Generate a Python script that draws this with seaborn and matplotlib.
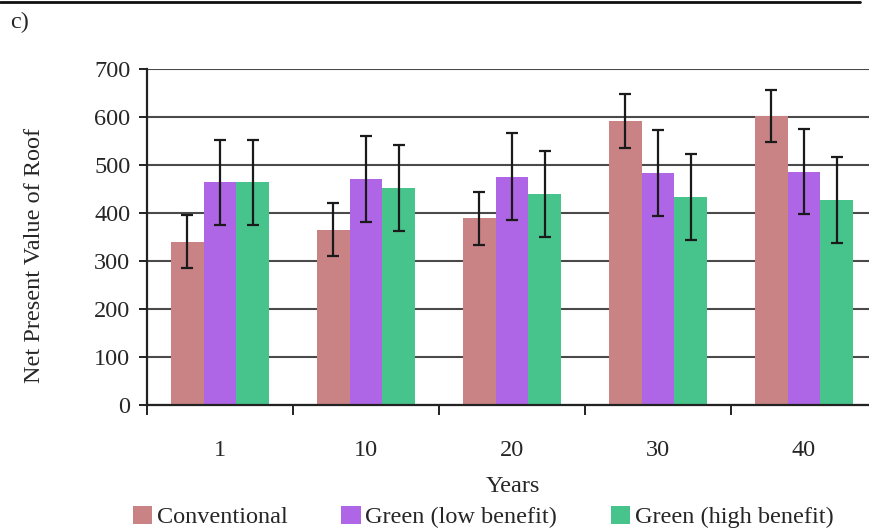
import numpy as np
import pandas as pd
import matplotlib
matplotlib.use("Agg")
import matplotlib.pyplot as plt
from matplotlib.lines import Line2D
import seaborn as sns

years = ["1", "10", "20", "30", "40"]
series = ["Conventional", "Green (low benefit)", "Green (high benefit)"]
conventional = [340, 365, 389, 591, 602]
green_low = [464, 471, 476, 483, 486]
green_high = [464, 452, 440, 433, 427]
err_conventional = [55, 55, 55, 56, 55]
err_green_low = [89, 90, 90, 90, 89]
err_green_high = [89, 90, 90, 90, 90]
colors = ["#C98385", "#AE66E6", "#47C48C"]

values = [conventional, green_low, green_high]
errors = [err_conventional, err_green_low, err_green_high]

df = pd.DataFrame({
    "Years": years * 3,
    "Series": [s for s in series for _ in years],
    "Value": conventional + green_low + green_high,
})

sns.set_theme(style="white")
plt.rcParams["font.family"] = ["Liberation Serif", "DejaVu Serif"]

FS = 17.5

fig = plt.figure(figsize=(8.69, 5.32), dpi=100)
ax = fig.add_axes([147 / 869, 1 - 405 / 532, 730 / 869, 336 / 532])

sns.barplot(data=df, x="Years", y="Value", hue="Series", order=years,
            hue_order=series, palette=colors, width=0.675, saturation=1,
            errorbar=None, ax=ax, legend=True, linewidth=0, edgecolor="none")

for cont, errs in zip(ax.containers, errors):
    xs = [p.get_x() + p.get_width() / 2 for p in cont]
    hs = [p.get_height() for p in cont]
    ax.errorbar(xs, hs, yerr=errs, fmt="none", ecolor="#1a1a1a",
                elinewidth=1.6, capsize=4.5, capthick=1.6, zorder=5)

ax.set_ylim(0, 700)
ax.set_xlim(-0.5, 4.5)
ax.set_yticks(np.arange(0, 701, 100))
ax.yaxis.grid(True, color="#4a4a4a", linewidth=1.5)
ax.set_axisbelow(True)

for s in ["top", "right"]:
    ax.spines[s].set_visible(False)
for s in ["left", "bottom"]:
    ax.spines[s].set_color("#222222")
    ax.spines[s].set_linewidth(1.6)

ax.tick_params(axis="y", which="major", direction="out", length=6, width=1.4,
               color="#222222", labelsize=FS, pad=6, left=True)
ax.tick_params(axis="x", which="major", bottom=False, labelsize=FS, pad=19)
ax.set_xticks(np.arange(-0.5, 4.6, 1.0), minor=True)
ax.tick_params(axis="x", which="minor", bottom=True, direction="out",
               length=7, width=1.4, color="#222222")

ax.set_xlabel("")
ax.set_ylabel("")
fig.text(513 / 869, 1 - 486 / 532, "Years", fontsize=FS, ha="center", va="center")
fig.text(35 / 869, 1 - 255 / 532, "Net Present Value of Roof", fontsize=FS,
         rotation=90, ha="center", va="center")

handles, labels = ax.get_legend_handles_labels()
ax.legend_.remove()
fig.legend(handles, labels, loc="center", bbox_to_anchor=(0.556, 0.028),
           ncol=3, frameon=False, fontsize=FS, handlelength=0.8,
           handleheight=0.75, handletextpad=0.2, columnspacing=2.2)

fig.text(10 / 869, 1 - 22 / 532, "c)", fontsize=FS, ha="left", va="center")
fig.add_artist(Line2D([0, 860 / 869], [1 - 2 / 532, 1 - 2 / 532],
                      color="#111111", linewidth=2, transform=fig.transFigure))

fig.savefig("out.png", dpi=100)
